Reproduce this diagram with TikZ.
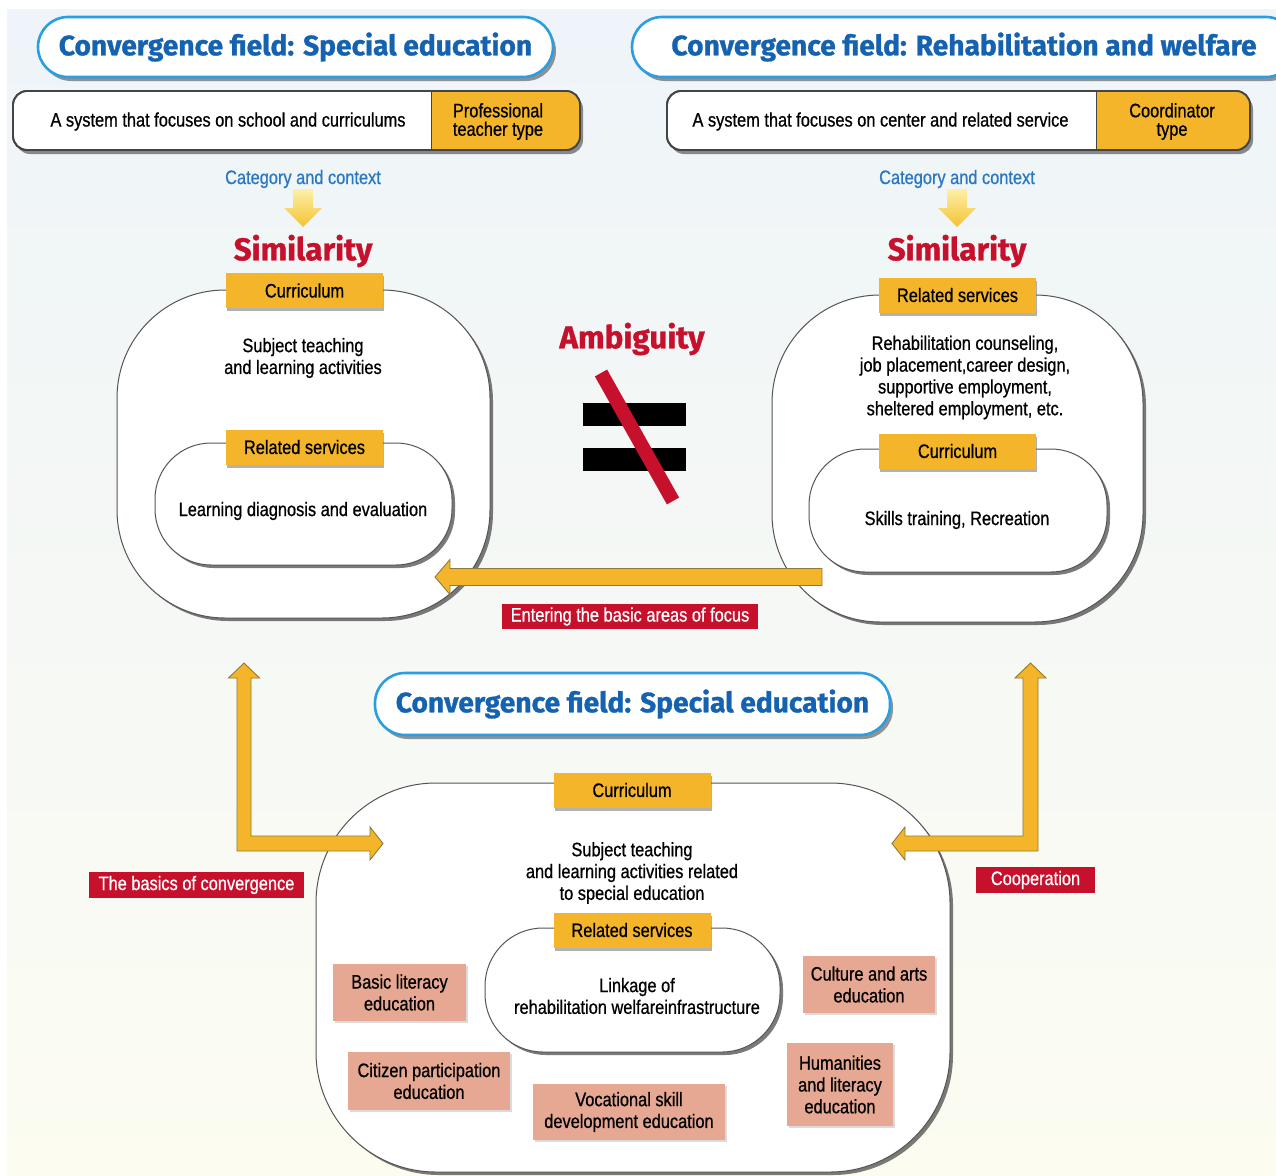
\documentclass[tikz,border=0pt]{standalone}
\usepackage{fontspec}
\setmainfont{Liberation Sans}[FakeStretch=0.84, FakeBold=0.7]
\newfontfamily\headfont{Fira Sans}[FakeBold=1.0]
\usetikzlibrary{shadows,calc}

\definecolor{gold}{HTML}{F5B52A}
\definecolor{goldedge}{HTML}{8F7A35}
\definecolor{pillblue}{HTML}{2A9EE0}
\definecolor{titleblue}{HTML}{1563B0}
\definecolor{catblue}{HTML}{2B78C2}
\definecolor{alertred}{HTML}{C6102C}
\definecolor{salmon}{HTML}{E6A892}
\definecolor{frame}{HTML}{555555}
\definecolor{bgtop}{HTML}{EEF4F9}
\definecolor{bgmid}{HTML}{F7F8F6}
\definecolor{bgbot}{HTML}{FCFCF1}
\definecolor{paleyellow}{HTML}{FCF0A8}
\definecolor{deepyellow}{HTML}{F5C232}

\newcommand{\bodysize}{\fontsize{19.5}{21.8}\selectfont}
\newcommand{\headsize}{\headfont\bfseries\fontsize{28.2}{30}\selectfont}
\newcommand{\bigsize}{\headfont\bfseries\fontsize{31.5}{34}\selectfont}

\begin{document}
\begin{tikzpicture}[x=1pt,y=-1pt,
  header/.style={draw=pillblue, line width=2.6pt, fill=white, rounded corners=30pt,
    minimum height=60pt, inner sep=0pt, outer sep=0pt, text=titleblue, font=\headsize,
    drop shadow={shadow xshift=3pt, shadow yshift=-4pt, fill=black!75, opacity=.55}},
  sysbar/.style={draw=frame!80!black, line width=1.8pt, fill=white, rounded corners=14pt,
    minimum height=59pt, inner sep=0pt, outer sep=0pt,
    drop shadow={shadow xshift=3pt, shadow yshift=-4pt, fill=black!75, opacity=.6}},
  sysedge/.style={draw=frame!80!black, line width=1.8pt, rounded corners=14pt},
  plain/.style={align=center, font=\bodysize, text=black, inner sep=0pt, yshift=-2pt},
  region/.style={draw=frame, line width=1pt, fill=white, inner sep=0pt, outer sep=0pt,
    drop shadow={shadow xshift=3pt, shadow yshift=-3pt, fill=black!80, opacity=.65}},
  tag/.style={fill=gold, minimum width=157pt, minimum height=35pt, inner sep=0pt,
    font=\bodysize, drop shadow={shadow xshift=1pt, shadow yshift=-3pt, fill=black!60, opacity=.5}},
  topic/.style={fill=salmon, align=center, font=\bodysize, inner sep=0pt,
    drop shadow={shadow xshift=2pt, shadow yshift=-2pt, fill=black!40, opacity=.35}},
  flag/.style={fill=alertred, text=white, font=\bodysize, inner sep=0pt, minimum height=25pt},
  heading/.style={font=\bigsize, text=alertred, inner sep=0pt, yshift=-2pt},
  arrowbody/.style={fill=gold, draw=goldedge, line width=.9pt, line join=miter},
  fallarrow/.style={top color=paleyellow, bottom color=deepyellow, draw=none},
  eqbar/.style={fill=black, minimum width=103pt, minimum height=23pt, inner sep=0pt}
]
\clip (0,0) rectangle (1276,1175);
\fill[white] (0,0) rectangle (1276,1175);
\shade[top color=bgtop, middle color=bgmid, bottom color=bgbot] (7,9) rectangle (1276,1175);

% ---------- field headers ----------
\node[header, minimum width=515pt] (hL) at (295.5,47) {Convergence field: Special education};
\node[header, minimum width=664pt] (hR) at (964,47) {Convergence field: Rehabilitation and welfare};

% ---------- system bars ----------
\node[sysbar, minimum width=567pt] (sysL) at (296.5,120.5) {};
\begin{scope}
  \clip[rounded corners=14pt] (sysL.north west) rectangle (sysL.south east);
  \fill[gold] (431,80) rectangle (600,160);
\end{scope}
\draw[sysedge] (sysL.north west) rectangle (sysL.south east);
\draw[frame!80!black, line width=1pt] (431,91) -- (431,150);
\node[plain] (sysLt) at (228,119.5) {A system that focuses on school and curriculums};
\node[plain, font=\fontsize{19.5}{18.5}\selectfont] (sysLo) at (498,119.5) {Professional\\teacher type};

\node[sysbar, minimum width=583pt] (sysR) at (958.5,120.5) {};
\begin{scope}
  \clip[rounded corners=14pt] (sysR.north west) rectangle (sysR.south east);
  \fill[gold] (1096,80) rectangle (1270,160);
\end{scope}
\draw[sysedge] (sysR.north west) rectangle (sysR.south east);
\draw[frame!80!black, line width=1pt] (1096,91) -- (1096,150);
\node[plain] (sysRt) at (880.5,119.5) {A system that focuses on center and related service};
\node[plain, font=\fontsize{19.5}{18.5}\selectfont] (sysRo) at (1172,119.5) {Coordinator\\type};

% ---------- category and similarity ----------
\node[plain, text=catblue] (catL) at (303,177) {Category and context};
\node[plain, text=catblue] (catR) at (957,177) {Category and context};
\coordinate (dL) at (303,189);
\coordinate (dR) at (957,189);
\foreach \c in {dL,dR}{
  \begin{scope}[shift={(\c)}]
    \shade[fallarrow] (-10,0) -- (10,0) -- (10,19) -- (19,19) -- (0,38) -- (-19,19) -- (-10,19) -- cycle;
  \end{scope}
}
\node[heading] (simL) at (303,249) {Similarity};
\node[heading] (simR) at (957,249) {Similarity};

% ---------- special education block ----------
\node[region, minimum width=373pt, minimum height=328pt, rounded corners=108pt] (outL) at (303.5,454) {};
\node[region, minimum width=297pt, minimum height=122pt, rounded corners=56pt] (inL) at (303.5,504) {};
\node[tag] (curL) at (304.5,290.5) {Curriculum};
\node[tag] (relL) at (304.5,447) {Related services};
\node[plain] (subjL) at (303,356) {Subject teaching\\and learning activities};
\node[plain] (diagL) at (303,509) {Learning diagnosis and evaluation};

% ---------- rehabilitation block ----------
\node[region, minimum width=371pt, minimum height=327pt, rounded corners=108pt] (outR) at (957.5,458.5) {};
\node[region, minimum width=298pt, minimum height=123pt, rounded corners=56pt] (inR) at (958,510.5) {};
\node[tag] (relR) at (957.5,295) {Related services};
\node[tag] (curR) at (957.5,451) {Curriculum};
\node[plain] (svcR) at (965,375.5) {Rehabilitation counseling,\\job placement,career design,\\supportive employment,\\sheltered employment, etc.};
\node[plain] (skR) at (957,518) {Skills training, Recreation};

% ---------- ambiguity ----------
\node[heading] (amb) at (632,337) {Ambiguity};
\node[eqbar] (eqA) at (634.5,414.5) {};
\node[eqbar] (eqB) at (634.5,459.5) {};
\draw[alertred, line width=14pt] (601,373) -- (673,501);

% ---------- entering arrow ----------
\coordinate (entTip) at (435,577);
\coordinate (entTail) at (822,577);
\draw[arrowbody] ($(entTail)+(0,-8.5)$) -- ($(entTip)+(15,-8.5)$) -- ($(entTip)+(15,-17.5)$) -- (entTip)
  -- ($(entTip)+(15,17.5)$) -- ($(entTip)+(15,8.5)$) -- ($(entTail)+(0,8.5)$) -- cycle;
\node[flag, minimum width=256pt] (entF) at (630,616.5) {Entering the basic areas of focus};

% ---------- convergence block ----------
\node[header, minimum width=515pt, minimum height=62pt] (hB) at (632.5,704) {Convergence field: Special education};
\node[region, minimum width=634pt, minimum height=389pt, rounded corners=120pt] (outB) at (633,977.5) {};
\node[region, minimum width=295pt, minimum height=124pt, rounded corners=58pt] (inB) at (632.5,990) {};
\node[tag] (curB) at (632,790) {Curriculum};
\node[tag] (relB) at (632,930) {Related services};
\node[plain] (subjB) at (632,871) {Subject teaching\\and learning activities related\\to special education};
\node[plain] (linkB) at (637,994) {Linkage of\\rehabilitation welfareinfrastructure};

\node[topic, minimum width=133pt, minimum height=57pt] (tBasic) at (399.5,992.5) {Basic literacy\\education};
\node[topic, minimum width=162pt, minimum height=58pt] (tCitizen) at (429,1081) {Citizen participation\\education};
\node[topic, minimum width=192pt, minimum height=56pt] (tVoc) at (629,1112) {Vocational skill\\development education};
\node[topic, minimum width=132pt, minimum height=57pt] (tCult) at (869,984.5) {Culture and arts\\education};
\node[topic, minimum width=106pt, minimum height=83pt] (tHum) at (840,1084.5) {Humanities\\and literacy\\education};

% ---------- side arrows ----------
\coordinate (bcL) at (244,843.5);
\begin{scope}[shift={(bcL)}]
  \draw[arrowbody] (0,-180.5) -- (15.5,-165.5) -- (7,-165.5) -- (7,-7.5) -- (126,-7.5) -- (126,-16.5)
    -- (139,0) -- (126,16.5) -- (126,7.5) -- (-7,7.5) -- (-7,-165.5) -- (-15.5,-165.5) -- cycle;
\end{scope}
\coordinate (bcR) at (1030.5,843.5);
\begin{scope}[shift={(bcR)}]
  \draw[arrowbody] (0,-180.5) -- (15.5,-165.5) -- (7.5,-165.5) -- (7.5,7.5) -- (-125.5,7.5) -- (-125.5,16.5)
    -- (-138.5,0) -- (-125.5,-16.5) -- (-125.5,-7.5) -- (-7.5,-7.5) -- (-7.5,-165.5) -- (-15.5,-165.5) -- cycle;
\end{scope}
\node[flag, minimum width=215pt, minimum height=26pt] (basF) at (196.5,885) {The basics of convergence};
\node[flag, minimum width=119pt, minimum height=26pt] (coopF) at (1035.5,880) {Cooperation};
\end{tikzpicture}
\end{document}
